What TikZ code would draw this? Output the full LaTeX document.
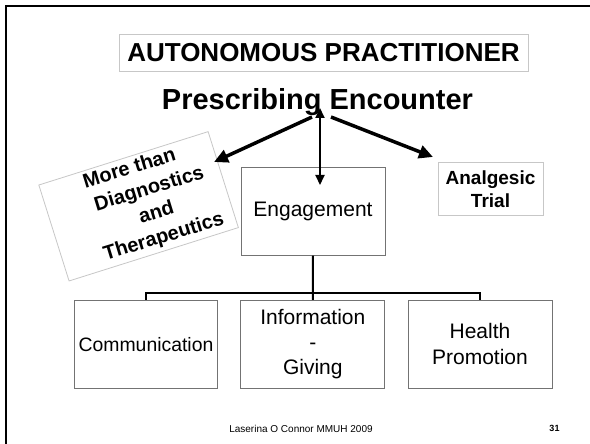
\documentclass[tikz,border=0pt]{standalone}
\usepackage{fontspec}
\setmainfont{Liberation Sans}
\usetikzlibrary{arrows.meta}
\begin{document}
\begin{tikzpicture}[x=1pt,y=-1pt,
  darkbox/.style={draw=black!55, line width=0.8pt, minimum width=144pt, minimum height=88pt, inner sep=0pt, align=center, font=\fontsize{21}{25}\selectfont},
  lightbox/.style={draw=black!22, line width=0.8pt, inner sep=0pt, align=center},
  bigarrow/.style={line width=3.5pt, -{Triangle[length=14pt,width=13pt]}},
  thinarrow/.style={line width=2pt, {Triangle[length=10pt,width=9pt]}-{Triangle[length=10pt,width=9pt]}},
  treeline/.style={line width=2pt}]
\useasboundingbox (0,0) rectangle (590,444);
\fill[white] (0,0) rectangle (590,444);
% slide frame (only left and top edges visible)
\draw[line width=2.5pt] (6,446) -- (6,6) -- (592,6);

% title
\node[lightbox, minimum width=409pt, minimum height=37pt, font=\bfseries\fontsize{26}{30}\selectfont] (title) at (323.5,53) {AUTONOMOUS PRACTITIONER};
\node[font=\bfseries\fontsize{29}{33}\selectfont, anchor=base] (enc) at (317.5,110) {Prescribing Encounter};

% hub coordinates
\coordinate (hl) at (312,117);
\coordinate (hr) at (331,117);
\coordinate (vt) at (320,108);
\coordinate (vb) at (320,185);
\coordinate (lt) at (214,162);
\coordinate (rt) at (433,157);

% rotated box
\node[lightbox, minimum width=177.5pt, minimum height=100.6pt, rotate=17.5] (more) at (138.6,206.3) {};
\node[rotate=17, align=center, inner sep=0pt, font=\bfseries\fontsize{20}{25}\selectfont] (moretxt) at (153,201.5)
  {More than\hspace*{26pt}\\Diagnostics\hspace*{6pt}\\and\\Therapeutics};

% analgesic
\node[lightbox, minimum width=105pt, minimum height=53pt, font=\bfseries\fontsize{19}{23}\selectfont] (anal) at (490.5,188.8) {Analgesic\\Trial};

% engagement and children
\node[darkbox] (eng) at (313,211.3) {Engagement};
\node[darkbox, minimum width=143pt, font=\fontsize{19.4}{23}\selectfont] (comm) at (146,344.2) {Communication};
\node[darkbox] (info) at (312.8,344.2) {Information\\-\\Giving};
\node[darkbox, font=\fontsize{21}{25.7}\selectfont] (health) at (480,344.2) {Health\\Promotion};

% arrows
\draw[bigarrow] (hl) -- (lt);
\draw[bigarrow] (hr) -- (rt);
\draw[thinarrow] (vt) -- (vb);

% tree
\draw[treeline] (eng.south) -- (info.north);
\draw[treeline] (comm.north) -- ++(0,-7.3) -| (health.north);

% footer
\node[font=\fontsize{10}{12}\selectfont, anchor=base] (foot) at (301,432.7) {Laserina O Connor MMUH 2009};
\node[font=\bfseries\fontsize{9}{11}\selectfont, anchor=base] (pg) at (554.5,431.7) {31};
\end{tikzpicture}
\end{document}
